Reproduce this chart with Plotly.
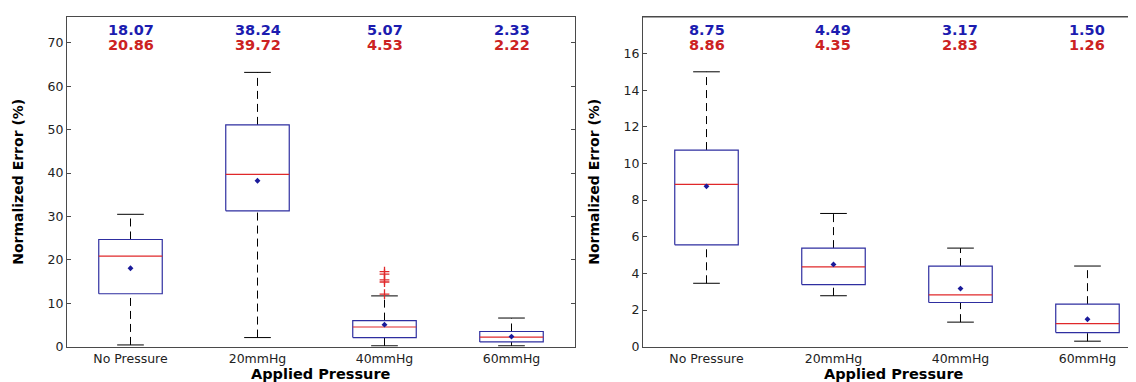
import plotly.graph_objects as go

categories = ["No Pressure", "20mmHg", "40mmHg", "60mmHg"]

# Left panel
L_mean = [18.07, 38.24, 5.07, 2.33]
L_median = [20.86, 39.72, 4.53, 2.22]
L_q1 = [12.2, 31.3, 2.1, 1.1]
L_q3 = [24.7, 51.1, 6.0, 3.5]
L_lo = [0.4, 2.1, 0.2, 0.2]
L_hi = [30.5, 63.2, 11.7, 6.6]
L_out_cat = [2, 2, 2, 2, 2]
L_out_val = [12.1, 14.9, 15.4, 16.7, 17.3]
L_yticks = [0, 10, 20, 30, 40, 50, 60, 70]

# Right panel
R_mean = [8.75, 4.49, 3.17, 1.50]
R_median = [8.86, 4.35, 2.83, 1.26]
R_q1 = [5.56, 3.39, 2.41, 0.77]
R_q3 = [10.73, 5.38, 4.40, 2.32]
R_lo = [3.46, 2.78, 1.34, 0.30]
R_hi = [15.0, 7.27, 5.38, 4.40]
R_yticks = [0, 2, 4, 6, 8, 10, 12, 14, 16]

BOX_BLUE = "#2e2ea0"
MED_RED = "#e0282a"
MEAN_BLUE = "#1a1a9a"
TXT_BLUE = "#1c1cb0"
TXT_RED = "#cc2222"
FONT = "DejaVu Sans, sans-serif"
HW = 0.25   # box half width
CW = 0.105  # cap half width

fig = go.Figure()


def add_panel(xa, ya, q1, q3, med, mean, lo, hi, out_c=None, out_v=None):
    n = len(q1)
    wx, wy = [], []
    for i in range(n):
        wx += [i, i, None, i, i, None]
        wy += [q3[i], hi[i], None, lo[i], q1[i], None]
    fig.add_trace(go.Scatter(x=wx, y=wy, mode="lines", xaxis=xa, yaxis=ya,
                             line=dict(color="black", width=1, dash="8px,5px"),
                             hoverinfo="skip", showlegend=False))
    cx, cy = [], []
    for i in range(n):
        cx += [i - CW, i + CW, None, i - CW, i + CW, None]
        cy += [hi[i], hi[i], None, lo[i], lo[i], None]
    fig.add_trace(go.Scatter(x=cx, y=cy, mode="lines", xaxis=xa, yaxis=ya,
                             line=dict(color="black", width=1),
                             hoverinfo="skip", showlegend=False))
    for i in range(n):
        fig.add_trace(go.Scatter(
            x=[i - HW, i + HW, i + HW, i - HW, i - HW],
            y=[q1[i], q1[i], q3[i], q3[i], q1[i]],
            mode="lines", fill="toself", fillcolor="white",
            xaxis=xa, yaxis=ya, line=dict(color=BOX_BLUE, width=1.2),
            hoverinfo="skip", showlegend=False))
    mx, my = [], []
    for i in range(n):
        mx += [i - HW, i + HW, None]
        my += [med[i], med[i], None]
    fig.add_trace(go.Scatter(x=mx, y=my, mode="lines", xaxis=xa, yaxis=ya,
                             line=dict(color=MED_RED, width=1.2),
                             hoverinfo="skip", showlegend=False))
    fig.add_trace(go.Scatter(x=list(range(n)), y=mean, mode="markers",
                             xaxis=xa, yaxis=ya,
                             marker=dict(symbol="diamond", size=4.5, color=MEAN_BLUE),
                             hoverinfo="skip", showlegend=False))
    if out_c:
        fig.add_trace(go.Scatter(x=out_c, y=out_v, mode="markers",
                                 xaxis=xa, yaxis=ya,
                                 marker=dict(symbol="cross-thin", size=7,
                                             line=dict(color=MED_RED, width=1.3)),
                                 hoverinfo="skip", showlegend=False))
    xref = "x" if xa == "x" else "x2"
    for i in range(n):
        fig.add_annotation(x=i, y=1 - 22.5 / 382, xref=xref, yref="paper",
                           yanchor="middle", text=f"<b>{mean[i]:.2f}</b>",
                           showarrow=False,
                           font=dict(family=FONT, size=14.5, color=TXT_BLUE))
        fig.add_annotation(x=i, y=1 - 37.5 / 382, xref=xref, yref="paper",
                           yanchor="middle", text=f"<b>{med[i]:.2f}</b>",
                           showarrow=False,
                           font=dict(family=FONT, size=14.5, color=TXT_RED))
    # x-axis title
    fig.add_annotation(x=0.5, y=0, xref=xref + " domain",
                       yref="paper", yanchor="bottom", yshift=-1,
                       text="<b>Applied Pressure</b>", showarrow=False,
                       font=dict(family=FONT, size=14.5, color="black"))


add_panel("x", "y", L_q1, L_q3, L_median, L_mean, L_lo, L_hi, L_out_cat, L_out_val)
add_panel("x2", "y2", R_q1, R_q3, R_median, R_mean, R_lo, R_hi)

LINE = dict(showgrid=False, zeroline=False, showline=True,
            linecolor="#4a4a4a", linewidth=1.2)

xt = dict(tickvals=list(range(len(categories))), ticktext=categories, ticks="",
          tickfont=dict(family=FONT, size=12.5, color="#222222"))

yt = dict(ticks="inside", tickcolor="#4a4a4a", ticklen=4,
          tickfont=dict(family=FONT, size=12.5, color="#222222"),
          title=dict(text="<b>Normalized Error (%)</b>", standoff=20,
                     font=dict(family=FONT, size=14, color="black")))

fig.update_layout(
    width=1136, height=382,
    margin=dict(l=0, r=0, t=0, b=0),
    paper_bgcolor="white", plot_bgcolor="white",
    xaxis=dict(domain=[59 / 1136, 567 / 1136], range=[-0.5, 3.5],
               anchor="y", mirror=True, **LINE, **xt),
    yaxis=dict(domain=[37 / 382, 373 / 382], range=[0, 76], anchor="x",
               mirror="ticks", tickvals=L_yticks, **LINE, **yt),
    xaxis2=dict(domain=[635 / 1136, 1.0], range=[-0.5, 3.445],
                anchor="y2", mirror=True, **LINE, **xt),
    yaxis2=dict(domain=[37 / 382, 373 / 382], range=[0, 18], anchor="x2",
                tickvals=R_yticks, **LINE, **yt),
)

# top frame line of the right panel (its right edge is cut off in the reference)
fig.add_shape(type="line", xref="x2 domain", yref="y2 domain",
              x0=0, x1=1, y0=1, y1=1, line=dict(color="#4a4a4a", width=1.2))

fig.write_html("out.html")
